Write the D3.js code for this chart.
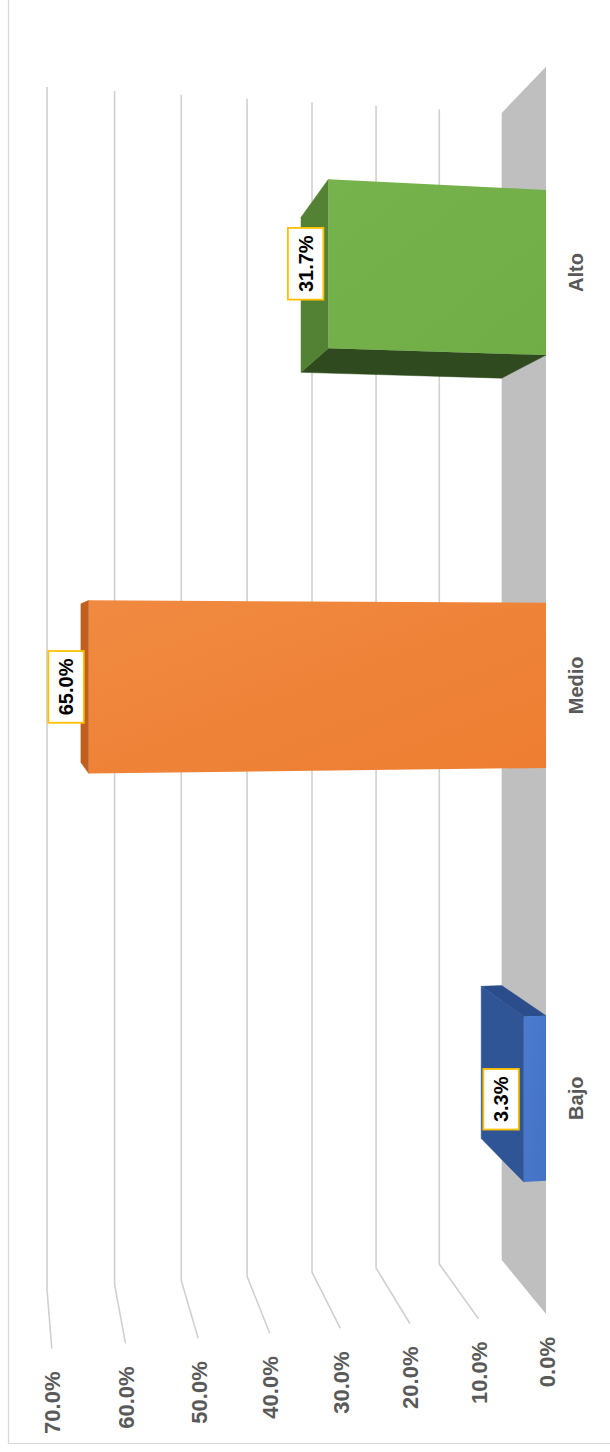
<!DOCTYPE html>
<html>
<head>
<meta charset="utf-8">
<script src="https://cdn.jsdelivr.net/npm/d3@7"></script>
<style>
  html, body { margin: 0; padding: 0; background: #ffffff; }
  svg { display: block; }
</style>
</head>
<body>
<script>
// ---------------- data ----------------
const categories = ["Bajo", "Medio", "Alto"];
const values = [0.033, 0.65, 0.317];
const valueLabels = ["3.3%", "65.0%", "31.7%"];
const tickValues = [0, 0.1, 0.2, 0.3, 0.4, 0.5, 0.6, 0.7];
const tickLabels = ["0.0%", "10.0%", "20.0%", "30.0%", "40.0%", "50.0%", "60.0%", "70.0%"];

// ---------------- styles ----------------
const faceColors = {
  front: ["#4472C4", "#ED7D31", "#70AD47"],
  frontLight: ["#4a7bcf", "#f08a40", "#76b34d"],
  top: ["#2F5597", "#C0601F", "#548235"],
  side: ["#2B4D8B", "#B4561A", "#2E4A1E"]
};
const W = 610, H = 1452;
const fontFamily = "'Liberation Sans', Arial, sans-serif";

const svg = d3.select("body").append("svg")
  .attr("width", W).attr("height", H)
  .attr("viewBox", `0 0 ${W} ${H}`);

svg.append("rect").attr("width", W).attr("height", H).attr("fill", "#ffffff");

// chart area border (left and bottom visible)
svg.append("path")
  .attr("d", "M8.5,-2 V1443.5 H612")
  .attr("fill", "none").attr("stroke", "#d9d9d9").attr("stroke-width", 1.2);

// ---------------- scales ----------------
const valueScale = d3.scaleLinear().domain([0, 0.7]).range([0, 1]);
const catScale = d3.scaleBand().domain(categories)
  .range([0.0075, 1.0005]).paddingInner(0.6).paddingOuter(0.3);

// perspective projection of (t = value fraction, b = category pos, c = depth 0 front..1 back)
function proj(t, b, c) {
  const w = 1 - 0.0496 * t + 0.0874 * c;
  const x = (546 - 496.8 * t - 0.45 * c) / w;
  const y = (1314 - 1247.3 * b - 32.4 * t + 56.1 * c) / w;
  return [x, y];
}
const poly = pts => "M" + pts.map(p => p[0].toFixed(2) + "," + p[1].toFixed(2)).join("L") + "Z";
const pline = pts => "M" + pts.map(p => p[0].toFixed(2) + "," + p[1].toFixed(2)).join("L");

// ---------------- floor ----------------
svg.append("path")
  .attr("d", poly([proj(0, 0, 0), proj(0, 1, 0), proj(0, 1, 1), proj(0, 0, 1)]))
  .attr("fill", "#bfbfbf");

// ---------------- gridlines (back wall + side wall) ----------------
const gridG = svg.append("g");
tickValues.filter(v => v > 0).forEach(v => {
  const tv = valueScale(v);
  gridG.append("path")
    .attr("d", pline([proj(tv, 1, 1), proj(tv, 0, 1), proj(tv, 0, 0)]))
    .attr("fill", "none").attr("stroke", "#d0d0d0")
    .attr("stroke-width", 1.6).attr("stroke-linejoin", "round");
});

// ---------------- value axis labels ----------------
tickValues.forEach((v, i) => {
  const [x, y] = proj(valueScale(v), 0, 0);
  svg.append("text")
    .attr("transform", `translate(${x + 1},${y + 23}) rotate(-90)`)
    .attr("text-anchor", "end")
    .attr("dominant-baseline", "central")
    .attr("font-family", fontFamily)
    .attr("font-weight", "bold")
    .attr("font-size", 22)
    .attr("fill", "#595959")
    .text(tickLabels[i]);
});

// ---------------- gradients ----------------
const defs = svg.append("defs");
categories.forEach((c, i) => {
  const g = defs.append("linearGradient").attr("id", "grad" + i)
    .attr("x1", "0").attr("y1", "0").attr("x2", "1").attr("y2", "1");
  g.append("stop").attr("offset", "0").attr("stop-color", faceColors.frontLight[i]);
  g.append("stop").attr("offset", "1").attr("stop-color", faceColors.front[i]);
});

// ---------------- bars ----------------
const bw = catScale.bandwidth();
const barG = svg.append("g");
categories.forEach((cat, i) => {
  const tv = valueScale(values[i]);
  const b0 = catScale(cat), b1 = b0 + bw;
  const tm = tv / 2;
  const g = barG.append("g");
  // side faces
  if (proj(tm, b1, 1)[1] < proj(tm, b1, 0)[1]) {
    g.append("path")
      .attr("d", poly([proj(0, b1, 0), proj(tv, b1, 0), proj(tv, b1, 1), proj(0, b1, 1)]))
      .attr("fill", faceColors.side[i]).attr("stroke", faceColors.side[i]).attr("stroke-width", 0.5);
  }
  if (proj(tm, b0, 1)[1] > proj(tm, b0, 0)[1]) {
    g.append("path")
      .attr("d", poly([proj(0, b0, 0), proj(tv, b0, 0), proj(tv, b0, 1), proj(0, b0, 1)]))
      .attr("fill", faceColors.side[i]).attr("stroke", faceColors.side[i]).attr("stroke-width", 0.5);
  }
  // top (value end) face
  g.append("path")
    .attr("d", poly([proj(tv, b0, 0), proj(tv, b1, 0), proj(tv, b1, 1), proj(tv, b0, 1)]))
    .attr("fill", faceColors.top[i]).attr("stroke", faceColors.top[i]).attr("stroke-width", 0.5);
  // front face
  g.append("path")
    .attr("d", poly([proj(0, b0, 0), proj(tv, b0, 0), proj(tv, b1, 0), proj(0, b1, 0)]))
    .attr("fill", `url(#grad${i})`);
});

// ---------------- data labels ----------------
categories.forEach((cat, i) => {
  const tv = valueScale(values[i]);
  const bc = catScale(cat) + bw / 2;
  const [fx, fy] = proj(tv, bc, 0);
  const cx = fx - 5 - 17.75;
  const g = svg.append("g").attr("transform", `translate(${cx},${fy}) rotate(-90)`);
  const rect = g.append("rect");
  const txt = g.append("text")
    .attr("text-anchor", "middle")
    .attr("dominant-baseline", "central")
    .attr("font-family", fontFamily)
    .attr("font-weight", "bold")
    .attr("font-size", 20)
    .attr("fill", "#000000")
    .text(valueLabels[i]);
  const L = txt.node().getComputedTextLength();
  const bh = L + 15, bwid = 35.5;
  rect.attr("x", -bh / 2).attr("y", -bwid / 2).attr("width", bh).attr("height", bwid)
    .attr("fill", "#ffffff").attr("stroke", "#FFC000").attr("stroke-width", 1.8);
});

// ---------------- category labels ----------------
categories.forEach(cat => {
  const [x, y] = proj(0, catScale(cat) + bw / 2, 0);
  svg.append("text")
    .attr("transform", `translate(${x + 30},${y}) rotate(-90)`)
    .attr("text-anchor", "middle")
    .attr("dominant-baseline", "central")
    .attr("font-family", fontFamily)
    .attr("font-weight", "bold")
    .attr("font-size", 20)
    .attr("fill", "#595959")
    .text(cat);
});
</script>
</body>
</html>
